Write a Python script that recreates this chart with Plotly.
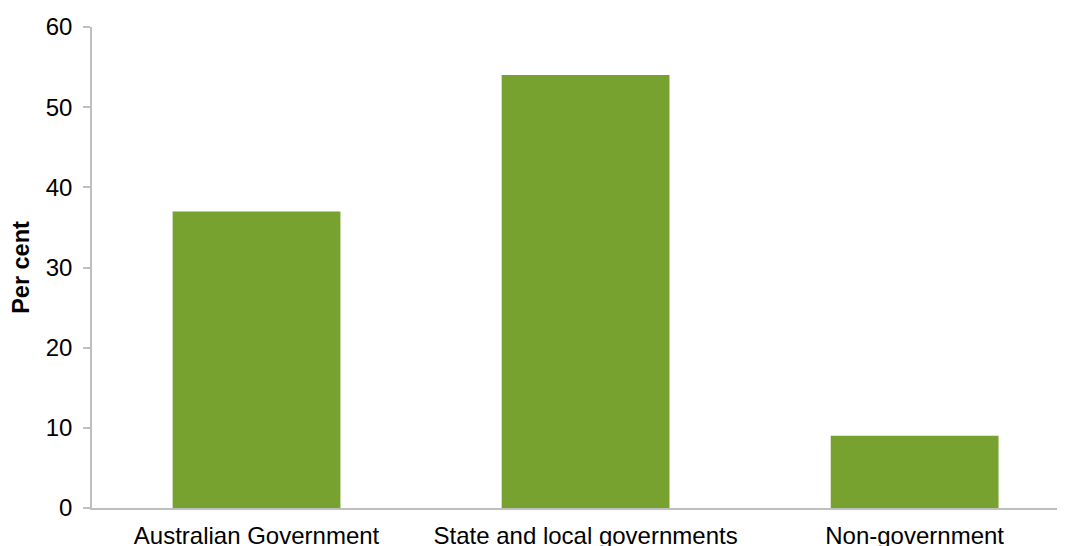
import plotly.graph_objects as go

categories = ["Australian Government", "State and local governments", "Non-government"]
values = [37, 54, 9]
y_ticks = [0, 10, 20, 30, 40, 50, 60]

fig = go.Figure(go.Bar(
    x=categories, y=values,
    marker=dict(color="#78A22F", line=dict(width=0)),
    width=0.51,
))

fig.update_layout(
    width=1057, height=538,
    margin=dict(l=84, r=0, t=19, b=38, autoexpand=False),
    paper_bgcolor="white", plot_bgcolor="white",
    font=dict(family="Liberation Sans, Arial, sans-serif", color="black"),
    showlegend=False,
)
fig.update_xaxes(
    range=[-0.5, 2.457],
    showline=True, linecolor="#BFBFBF", linewidth=1.5,
    ticks="", tickfont=dict(size=24), ticklabelstandoff=5,
    showgrid=False,
)
fig.update_yaxes(
    range=[0, 60], tickvals=y_ticks,
    showline=True, linecolor="#BFBFBF", linewidth=1.5,
    ticks="outside", ticklen=7, tickcolor="#BFBFBF", tickwidth=1.5,
    tickfont=dict(size=24), ticklabelstandoff=6,
    showgrid=False, zeroline=False,
    title=dict(text="<b>Per cent</b>", font=dict(size=23.5), standoff=11),
)

fig.write_html("out.html")
